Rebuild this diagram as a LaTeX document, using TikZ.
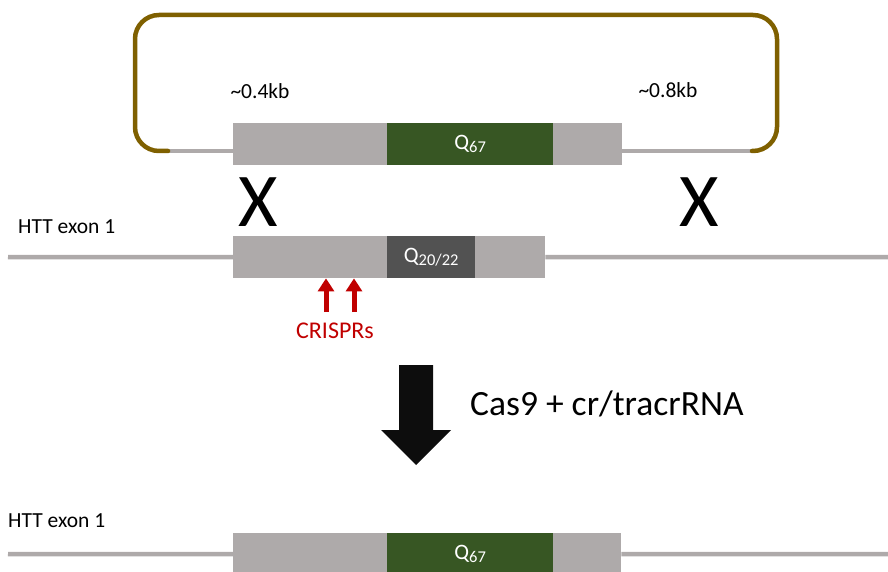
\documentclass[tikz,border=0pt]{standalone}
\usepackage{fontspec}
\setmainfont{Carlito}
\usetikzlibrary{arrows.meta}
\definecolor{boxgray}{HTML}{AEAAAA}
\definecolor{qgreen}{HTML}{375623}
\definecolor{qdark}{HTML}{525252}
\definecolor{loopbrown}{HTML}{7F6000}
\definecolor{crred}{HTML}{C00000}
\definecolor{bigarrow}{HTML}{0D0D0D}
\newcommand{\qlab}[1]{{\fontsize{22}{26}\selectfont Q\raisebox{-0.3ex}{\fontsize{16.5}{18}\selectfont #1}}}
\tikzset{
  exonbox/.style={fill=boxgray, draw=none, inner sep=0pt, minimum height=42pt, anchor=north west},
  qbox/.style={draw=none, inner sep=0pt, minimum height=42pt, anchor=north west, text=white},
  dnaline/.style={draw=boxgray, line width=4.5pt},
  plasmid/.style={draw=loopbrown, line width=4.5pt, rounded corners=24pt, line cap=round},
  lbl/.style={font=\fontsize{21.5}{25}\selectfont, inner sep=0pt},
  bigx/.style={font=\fontsize{76}{80}\selectfont, inner sep=0pt, anchor=base},
  crarrow/.style={draw=crred, line width=5pt, -{Triangle[width=16pt,length=13pt]}},
}
\begin{document}
\begin{tikzpicture}[x=1pt,y=-1pt]
\useasboundingbox (0,0) rectangle (888,572);

% ---------- plasmid (donor) ----------
\coordinate (pl) at (168,151);
\coordinate (pr) at (752,151);
\node[exonbox, minimum width=389pt] (topbox) at (233,123) {};
\node[qbox, fill=qgreen, minimum width=166pt] (topq) at (387,123) {\qlab{67}};
\draw[dnaline] (pl) -- (pl -| topbox.west);
\draw[dnaline] (pr -| topbox.east) -- (pr);
\draw[plasmid] (pl) -- (135,151) -- (135,15) -- (777,15) -- (777,151) -- (pr);
\node[lbl, anchor=base] (kb4) at (260,99) {\textasciitilde 0.4kb};
\node[lbl, anchor=base] (kb8) at (668,98) {\textasciitilde 0.8kb};

% ---------- crossover marks ----------
\node[bigx] (x1) at (258,226) {X};
\node[bigx] (x2) at (699,226) {X};

% ---------- genomic locus ----------
\node[lbl, anchor=base west] (htt1) at (18,233) {HTT exon 1};
\node[exonbox, minimum width=312pt] (midbox) at (233,236) {};
\node[qbox, fill=qdark, minimum width=88pt] (midq) at (387,236) {\qlab{20/22}};
\coordinate (ml) at (8,257);
\coordinate (mr) at (888,257);
\draw[dnaline] (ml) -- (midbox.west);
\draw[dnaline] (midbox.east) -- (mr);

% CRISPR arrows
\coordinate (cr1) at (326,312);
\coordinate (cr2) at (354,312);
\draw[crarrow] (cr1) -- (cr1 |- midbox.south);
\draw[crarrow] (cr2) -- (cr2 |- midbox.south);
\node[anchor=base, inner sep=0pt, font=\fontsize{24}{28}\selectfont, text=crred] (crisprs) at (335,338) {CRISPRs};

% ---------- big arrow ----------
\fill[bigarrow] (399,365) -- (433,365) -- (433,430) -- (451,430) -- (416,465) -- (381,430) -- (399,430) -- cycle;
\node[anchor=base west, inner sep=0pt, font=\fontsize{35.5}{40}\selectfont] (cas9) at (470,415) {Cas9 + cr/tracrRNA};

% ---------- edited locus ----------
\node[lbl, anchor=base west] (htt2) at (8,527) {HTT exon 1};
\node[exonbox, minimum width=388pt] (botbox) at (233,533) {};
\node[qbox, fill=qgreen, minimum width=166pt] (botq) at (387,533) {\qlab{67}};
\coordinate (bl) at (8,554);
\coordinate (br) at (888,554);
\draw[dnaline] (bl) -- (botbox.west);
\draw[dnaline] (botbox.east) -- (br);
\end{tikzpicture}
\end{document}
